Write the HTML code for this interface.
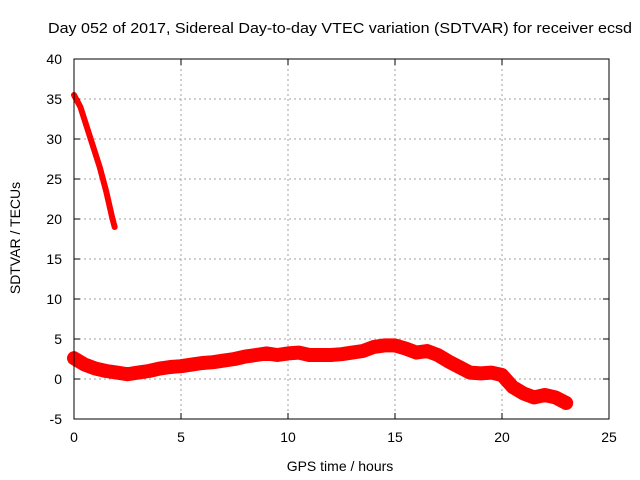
<!DOCTYPE html>
<html><head><meta charset="utf-8"><style>
body{margin:0;background:#fff}
svg{display:block;font-family:"Liberation Sans",sans-serif}
</style></head><body>
<svg id="chart" width="640" height="480">
<rect width="640" height="480" fill="#fff"/>
<text x="340" y="33" text-anchor="middle" font-size="15" textLength="584" lengthAdjust="spacingAndGlyphs">Day 052 of 2017, Sidereal Day-to-day VTEC variation (SDTVAR) for receiver ecsd</text>
<text transform="translate(20,238) rotate(-90)" text-anchor="middle" font-size="14">SDTVAR / TECUs</text>
<text x="340" y="471" text-anchor="middle" font-size="14">GPS time / hours</text>
<g id="grid"></g><g id="ticks"></g><g id="series"></g>
<rect x="74" y="59" width="535" height="360" fill="none" stroke="#000" stroke-width="1"/>
</svg>
<script>
const xTicks=[0,5,10,15,20,25];
const yTicks=[-5,0,5,10,15,20,25,30,35,40];
const arcHours=[0,0.3,0.6,0.9,1.2,1.5,1.8,1.9];
const arcValues=[35.5,34,31.5,29,26.5,23.5,20,19];
const bandHours=[0,0.5,1,1.5,2,2.5,3,3.5,4,4.5,5,5.5,6,6.5,7,7.5,8,8.5,9,9.5,10,10.5,11,11.5,12,12.5,13,13.5,14,14.5,15,15.5,16,16.5,17,17.5,18,18.5,19,19.5,20,20.5,21,21.5,22,22.5,23];
const bandValues=[2.6,1.8,1.3,1.0,0.8,0.6,0.8,1.0,1.3,1.5,1.6,1.8,2.0,2.1,2.3,2.5,2.8,3.0,3.2,3.0,3.2,3.3,3.0,3.0,3.0,3.1,3.3,3.5,4.0,4.2,4.2,3.8,3.3,3.5,3.0,2.2,1.5,0.8,0.7,0.8,0.5,-1.0,-1.8,-2.3,-2.0,-2.3,-3.0];
const X=v=>74+v*535/25, Y=v=>379-v*8;
const ns="http://www.w3.org/2000/svg";
function mk(tag,attrs,parent){const e=document.createElementNS(ns,tag);for(const k in attrs)e.setAttribute(k,attrs[k]);parent.appendChild(e);return e;}
const grid=document.getElementById('grid'),ticks=document.getElementById('ticks'),series=document.getElementById('series');
xTicks.forEach(t=>{
 if(t>0&&t<25){const g=mk('line',{x1:X(t),x2:X(t),y1:59,y2:419,stroke:'#a0a0a0','stroke-dasharray':'2,3'},grid);
 
 }
 mk('line',{x1:X(t),x2:X(t),y1:419,y2:413,stroke:'#000'},ticks);
 mk('line',{x1:X(t),x2:X(t),y1:59,y2:65,stroke:'#000'},ticks);
 const l=mk('text',{x:X(t),y:442,'text-anchor':'middle','font-size':14},ticks);l.textContent=t;
 
 
});
yTicks.forEach(t=>{
 if(t>-5&&t<40){const g=mk('line',{x1:74,x2:609,y1:Y(t),y2:Y(t),stroke:'#a0a0a0','stroke-dasharray':'2,3'},grid);
 
 }
 mk('line',{x1:74,x2:80,y1:Y(t),y2:Y(t),stroke:'#000'},ticks);
 mk('line',{x1:609,x2:603,y1:Y(t),y2:Y(t),stroke:'#000'},ticks);
 const l=mk('text',{x:62,y:Y(t)+5,'text-anchor':'end','font-size':14},ticks);l.textContent=t;
 
 
});
const arc=mk('polyline',{points:arcHours.map((h,i)=>X(h)+','+Y(arcValues[i])).join(' '),fill:'none',stroke:'#f00','stroke-width':6,'stroke-linejoin':'round','stroke-linecap':'round'},series);


const band=mk('polyline',{points:bandHours.map((h,i)=>X(h)+','+Y(bandValues[i])).join(' '),fill:'none',stroke:'#f00','stroke-width':14,'stroke-linejoin':'round','stroke-linecap':'round'},series);


</script>
</body></html>
